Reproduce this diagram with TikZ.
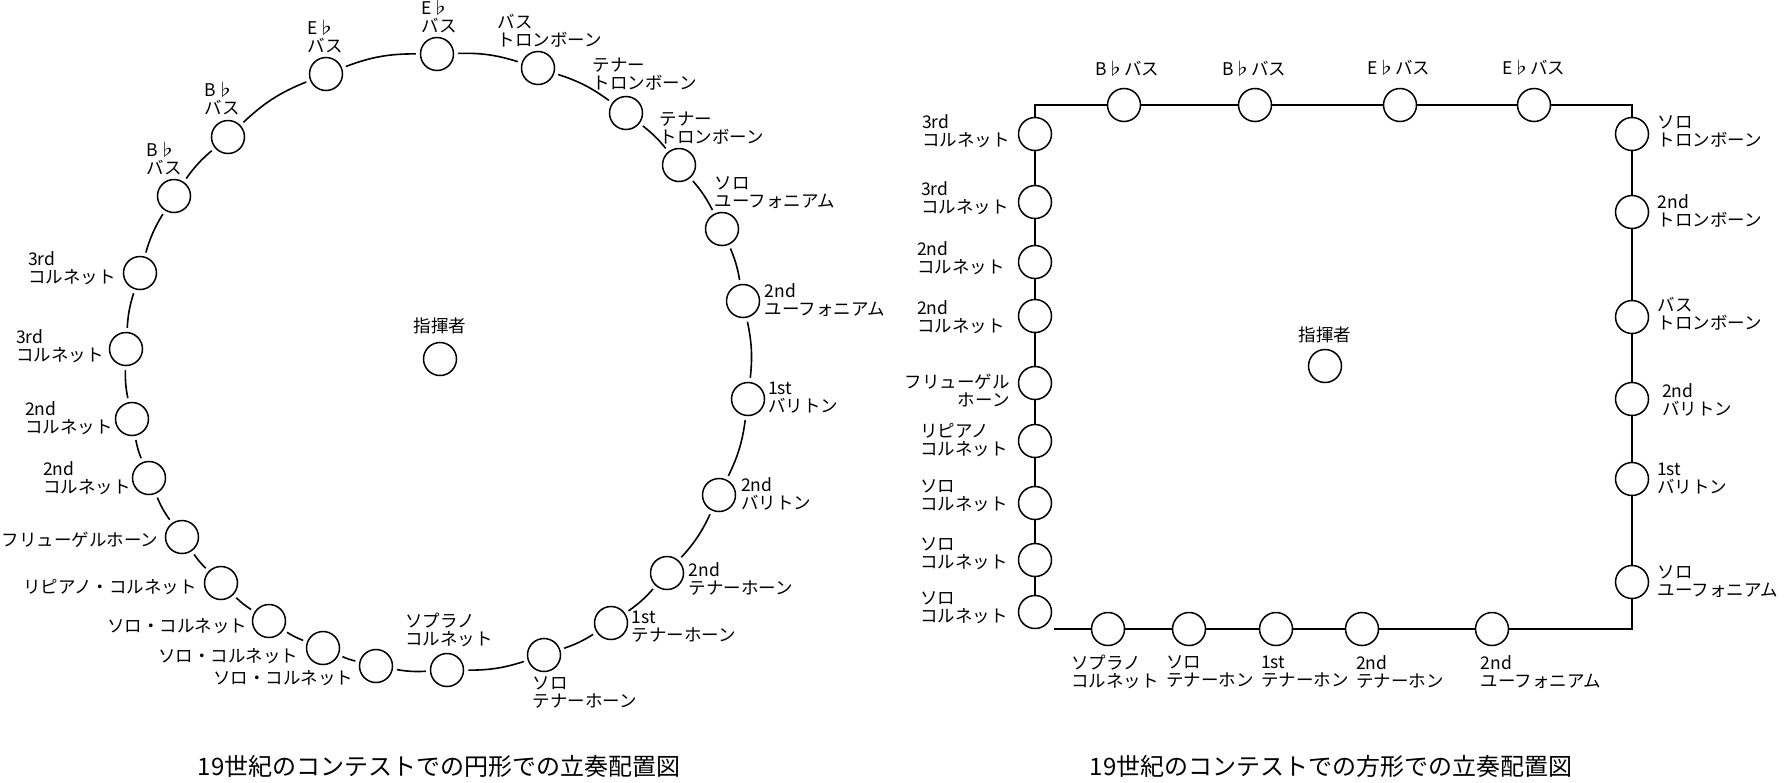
\documentclass[tikz,border=0pt]{standalone}
\usepackage{fontspec}
\setmainfont{Noto Sans CJK JP}
\tikzset{
  inst/.style={circle, draw, line width=1.5pt, minimum size=33pt, inner sep=0pt},
  lab/.style={font=\fontsize{17.5}{18}\selectfont, inner sep=0pt, align=left},
  labr/.style={lab, align=right},
  link/.style={line width=1.6pt, shorten >=4pt, shorten <=4pt},
  sqline/.style={line width=1.6pt},
  captext/.style={font=\fontsize{24}{26}\selectfont, inner sep=0pt}
}
\begin{document}
\begin{tikzpicture}[x=1pt,y=-1pt]
\useasboundingbox (0,0) rectangle (1787,782);

% ---------------- circle layout ----------------
\node[inst] (cond1) at (440,359) {};
\node[lab] (cond1l) at (440,326) {指揮者};

\node[inst] (ca3a) at (140,273) {};
\node[inst] (ca3b) at (126,349) {};
\node[inst] (ca2a) at (132,419) {};
\node[inst] (ca2b) at (149,478) {};
\node[inst] (cfl)  at (182,537) {};
\node[inst] (crip) at (221,583) {};
\node[inst] (csc)  at (269,621) {};
\node[inst] (csb)  at (323,648) {};
\node[inst] (csa)  at (376,666) {};
\node[inst] (csop) at (447,670) {};
\node[inst] (csth) at (544,655) {};
\node[inst] (c1th) at (611,623) {};
\node[inst] (c2th) at (667,573) {};
\node[inst] (c2ba) at (719,495) {};
\node[inst] (c1ba) at (748,399) {};
\node[inst] (c2eu) at (743,301) {};
\node[inst] (cseu) at (722,229) {};
\node[inst] (ctt2) at (679,165) {};
\node[inst] (ctt1) at (626,113) {};
\node[inst] (cbtb) at (538,68) {};
\node[inst] (cEb2) at (437,54) {};
\node[inst] (cEb1) at (326,74) {};
\node[inst] (cBb2) at (228,137) {};
\node[inst] (cBb1) at (174,196) {};

\node[lab] (lBb1) at (164,159) {B♭\\バス};
\node[lab] (lBb2) at (222,99) {B♭\\バス};
\node[lab] (lEb1) at (325,37) {E♭\\バス};
\node[lab] (lEb2) at (439,17) {E♭\\バス};
\node[lab] (lbtb) at (550,31) {バス\\トロンボーン};
\node[lab] (ltt1) at (645,74) {テナー\\トロンボーン};
\node[lab] (ltt2) at (712,128) {テナー\\トロンボーン};
\node[lab] (lseu) at (775,193) {ソロ\\ユーフォニアム};
\node[lab] (l2eu) at (825,300) {2nd\\ユーフォニアム};
\node[lab] (l1ba) at (803,398) {1st\\バリトン};
\node[lab] (l2ba) at (776,494) {2nd\\バリトン};
\node[lab] (l2th) at (741,579) {2nd\\テナーホーン};
\node[lab] (l1th) at (684,627) {1st\\テナーホーン};
\node[lab] (lsth) at (585,693) {ソロ\\テナーホーン};
\node[lab] (lsop) at (449,630) {ソプラノ\\コルネット};
\node[lab] (lsa)  at (283,678) {ソロ・コルネット};
\node[lab] (lsb)  at (228,656) {ソロ・コルネット};
\node[lab] (lsc)  at (177,626) {ソロ・コルネット};
\node[lab] (lrip) at (110,587) {リピアノ・コルネット};
\node[lab] (lfl)  at (80,540) {フリューゲルホーン};
\node[lab] (l2b)  at (87,478) {2nd\\コルネット};
\node[lab] (l2a)  at (69,418) {2nd\\コルネット};
\node[lab] (l3b)  at (60,346) {3rd\\コルネット};
\node[lab] (l3a)  at (72,268) {3rd\\コルネット};

\draw[link] (csop) to[bend left=6.6] (csa);
\draw[link] (csa)  to[bend left=5.2] (csb);
\draw[link] (csb)  to[bend left=5.6] (csc);
\draw[link] (csc)  to[bend left=5.7] (crip);
\draw[link] (crip) to[bend left=5.6] (cfl);
\draw[link] (cfl)  to[bend left=6.3] (ca2b);
\draw[link] (ca2b) to[bend left=5.7] (ca2a);
\draw[link] (ca2a) to[bend left=6.5] (ca3b);
\draw[link] (ca3b) to[bend left=7.1] (ca3a);
\draw[link] (ca3a) to[bend left=7.8] (cBb1);
\draw[link] (cBb1) to[bend left=7.4] (cBb2);
\draw[link] (cBb2) to[bend left=10.8] (cEb1);
\draw[link] (cEb1) to[bend left=10.5] (cEb2);
\draw[link] (cEb2) to[bend left=9.5] (cbtb);
\draw[link] (cbtb) to[bend left=9.2] (ctt1);
\draw[link] (ctt1) to[bend left=6.9] (ctt2);
\draw[link] (ctt2) to[bend left=7.1] (cseu);
\draw[link] (cseu) to[bend left=7] (c2eu);
\draw[link] (c2eu) to[bend left=9.1] (c1ba);
\draw[link] (c1ba) to[bend left=9.3] (c2ba);
\draw[link] (c2ba) to[bend left=8.7] (c2th);
\draw[link] (c2th) to[bend left=7] (c1th);
\draw[link] (c1th) to[bend left=6.9] (csth);
\draw[link] (csth) to[bend left=9.1] (csop);

\node[captext] (cap1) at (439,766) {19世紀のコンテストでの円形での立奏配置図};

% ---------------- square layout ----------------
\node[inst] (cond2) at (1325,366) {};
\node[lab] (cond2l) at (1325,335) {指揮者};

\coordinate (tl) at (1035,105);
\coordinate (tr) at (1632,105);
\coordinate (br) at (1632,629);
\coordinate (bend) at (1054,629);

\node[inst] (sBb1) at (1124,105) {};
\node[inst] (sBb2) at (1255,105) {};
\node[inst] (sEb1) at (1400,105) {};
\node[inst] (sEb2) at (1534,105) {};

\node[inst] (s3a)  at (1035,134) {};
\node[inst] (s3b)  at (1035,202) {};
\node[inst] (s2a)  at (1035,262) {};
\node[inst] (s2b)  at (1035,316) {};
\node[inst] (sfl)  at (1035,383) {};
\node[inst] (srip) at (1035,441) {};
\node[inst] (ssa)  at (1035,503) {};
\node[inst] (ssb)  at (1035,560) {};
\node[inst] (ssc)  at (1035,612) {};

\node[inst] (sstr) at (1632,134) {};
\node[inst] (s2tr) at (1632,212) {};
\node[inst] (sbtr) at (1632,317) {};
\node[inst] (s2ba) at (1632,399) {};
\node[inst] (s1ba) at (1632,479) {};
\node[inst] (sseu) at (1632,582) {};

\node[inst] (s2eu) at (1492,629) {};
\node[inst] (s2th) at (1362,629) {};
\node[inst] (s1th) at (1276,629) {};
\node[inst] (ssth) at (1189,629) {};
\node[inst] (ssop) at (1108,629) {};

\draw[sqline] (s3a) -- (tl) -- (sBb1) -- (sBb2) -- (sEb1) -- (sEb2) -- (tr) -- (sstr);
\draw[sqline] (s3a) -- (s3b) -- (s2a) -- (s2b) -- (sfl) -- (srip) -- (ssa) -- (ssb) -- (ssc);
\draw[sqline] (sstr) -- (s2tr) -- (sbtr) -- (s2ba) -- (s1ba) -- (sseu) -- (br) -- (s2eu) -- (s2th) -- (s1th) -- (ssth) -- (ssop) -- (bend);

\node[lab] (lsBb1) at (1127,69) {B♭バス};
\node[lab] (lsBb2) at (1254,69) {B♭バス};
\node[lab] (lsEb1) at (1399,68) {E♭バス};
\node[lab] (lsEb2) at (1534,68) {E♭バス};

\node[lab] (ls3a) at (966,131) {3rd\\コルネット};
\node[lab] (ls3b) at (965,198) {3rd\\コルネット};
\node[lab] (ls2a) at (961,258) {2nd\\コルネット};
\node[lab] (ls2b) at (961,317) {2nd\\コルネット};
\node[labr] (lsfl) at (957,390) {フリューゲル\\ホーン};
\node[lab] (lsrip) at (964,440) {リピアノ\\コルネット};
\node[lab] (lssa) at (964,496) {ソロ\\コルネット};
\node[lab] (lssb) at (964,554) {ソロ\\コルネット};
\node[lab] (lssc) at (964,608) {ソロ\\コルネット};

\node[lab] (lsstr) at (1710,131) {ソロ\\トロンボーン};
\node[lab] (ls2tr) at (1710,211) {2nd\\トロンボーン};
\node[lab] (lsbtr) at (1710,314) {バス\\トロンボーン};
\node[lab] (ls2ba) at (1697,400) {2nd\\バリトン};
\node[lab] (ls1ba) at (1692,479) {1st\\バリトン};
\node[lab] (lsseu) at (1718,582) {ソロ\\ユーフォニアム};

\node[lab] (lssop) at (1115,672) {ソプラノ\\コルネット};
\node[lab] (lssth) at (1210,672) {ソロ\\テナーホン};
\node[lab] (ls1th) at (1305,672) {1st\\テナーホン};
\node[lab] (ls2th) at (1400,672) {2nd\\テナーホン};
\node[lab] (ls2eu) at (1541,672) {2nd\\ユーフォニアム};

\node[captext] (cap2) at (1331,766) {19世紀のコンテストでの方形での立奏配置図};
\end{tikzpicture}
\end{document}
